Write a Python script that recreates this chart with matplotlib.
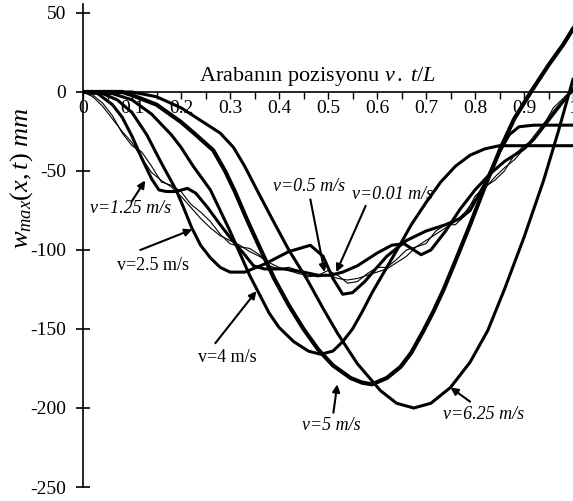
import numpy as np
import matplotlib
matplotlib.use("Agg")
import matplotlib.pyplot as plt
from matplotlib.ticker import MultipleLocator, FixedLocator

plt.rcParams['font.family'] = ['Liberation Serif', 'DejaVu Serif']
plt.rcParams['mathtext.fontset'] = 'custom'
plt.rcParams['mathtext.rm'] = 'Liberation Serif'
plt.rcParams['mathtext.it'] = 'Liberation Serif:italic'
plt.rcParams['axes.unicode_minus'] = False

# ---- data (x = v.t/L, y = w_max in mm) ----
x_slow = [0, 0.02, 0.04, 0.06, 0.08, 0.10, 0.12, 0.14, 0.16, 0.18, 0.20, 0.22, 0.24,
          0.26, 0.28, 0.30, 0.32, 0.34, 0.36, 0.38, 0.40, 0.42, 0.44, 0.46, 0.48, 0.50,
          0.52, 0.54, 0.56, 0.58, 0.60, 0.62, 0.64, 0.66, 0.68, 0.70, 0.72, 0.74, 0.76,
          0.78, 0.80, 0.82, 0.84, 0.86, 0.88, 0.90, 0.92, 0.94, 0.96, 0.98, 1.0]
y_001 = [0, -3, -9, -17, -25, -32, -42, -51, -56, -60, -66, -73, -80,
         -86, -91, -94, -97, -101, -104, -108, -111, -113, -115, -116, -117, -116,
         -118, -119, -118, -116, -114, -112, -108, -104, -98, -94, -90, -86, -82,
         -76, -68, -61, -54, -48, -43, -36, -28, -20, -12, -5, 0]
y_05 = [0, -2, -7, -15, -26, -34, -38, -47, -57, -59, -63, -71, -76,
        -82, -90, -96, -98, -99, -103, -110, -112, -111, -113, -117, -116, -113,
        -116, -121, -120, -115, -111, -111, -106, -100, -98, -96, -88, -84, -84,
        -78, -66, -60, -56, -50, -40, -34, -30, -21, -10, -4, 2]

x_125 = [0, 0.03, 0.06, 0.08, 0.10, 0.12, 0.14, 0.155, 0.17, 0.19, 0.213, 0.23, 0.254,
         0.28, 0.30, 0.33, 0.348, 0.37, 0.41, 0.45, 0.48, 0.505, 0.53, 0.56, 0.60, 0.63,
         0.655, 0.675, 0.69, 0.71, 0.74, 0.77, 0.80, 0.83, 0.86, 0.88, 0.90, 0.92, 0.95,
         0.98, 1.0]
y_125 = [0, -1, -8, -16, -28, -42, -55, -62, -63, -63, -61, -64, -73,
         -84, -92, -103, -110, -112, -112, -114, -116, -116, -114, -110, -102, -97,
         -96, -100, -103, -100, -88, -74, -62, -52, -44, -40, -36, -30, -18,
         -6, 2]

x_25 = [0, 0.04, 0.07, 0.10, 0.13, 0.16, 0.19, 0.205, 0.222, 0.24, 0.26, 0.28, 0.30,
        0.33, 0.37, 0.42, 0.464, 0.49, 0.51, 0.53, 0.55, 0.575, 0.60, 0.62, 0.66, 0.70,
        0.74, 0.77, 0.79, 0.82, 0.85, 0.87, 0.89, 0.92, 1.0]
y_25 = [0, -1, -5, -13, -27, -45, -62, -73, -86, -97, -105, -111, -114,
        -114, -109, -101, -97, -104, -118, -128, -127, -120, -111, -104, -94, -88,
        -84, -80, -75, -58, -38, -27, -22, -21, -21]

x_4 = [0, 0.06, 0.10, 0.14, 0.18, 0.20, 0.225, 0.26, 0.28, 0.30, 0.32, 0.34, 0.36, 0.38,
       0.40, 0.43, 0.46, 0.485, 0.51, 0.53, 0.55, 0.57, 0.59, 0.62, 0.65, 0.67, 0.70, 0.73,
       0.76, 0.79, 0.82, 0.85, 0.90, 1.0]
y_4 = [0, -1, -5, -14, -27, -35, -47, -62, -75, -88, -102, -116, -128, -140,
       -149, -158, -164, -166, -164, -158, -150, -139, -127, -111, -95, -84, -70, -57,
       -47, -40, -36, -34, -34, -34]

x_5 = [0, 0.08, 0.10, 0.15, 0.20, 0.23, 0.266, 0.29, 0.31, 0.335, 0.36, 0.39, 0.42, 0.45,
       0.48, 0.51, 0.546, 0.57, 0.59, 0.62, 0.648, 0.67, 0.695, 0.715, 0.736, 0.76, 0.79, 0.82,
       0.853, 0.88, 0.914, 0.95, 0.98, 1.0]
y_5 = [0, 0, -2, -8, -19, -27, -37, -50, -63, -81, -98, -118, -135, -150,
       -163, -173, -181, -184, -185, -181, -174, -165, -151, -139, -125, -107, -84, -60,
       -35, -17, 0, 17, 30, 40]

x_625 = [0, 0.10, 0.15, 0.20, 0.25, 0.28, 0.307, 0.33, 0.355, 0.382, 0.42, 0.458, 0.49, 0.52,
         0.56, 0.607, 0.64, 0.675, 0.71, 0.75, 0.79, 0.826, 0.86, 0.90, 0.94, 0.97, 1.0]
y_625 = [0, 0, -3, -10, -20, -26, -35, -47, -62, -78, -100, -119, -137, -153,
         -172, -189, -197, -200, -197, -187, -171, -151, -125, -92, -56, -25, 8]

x_ticks = [0, 0.1, 0.2, 0.3, 0.4, 0.5, 0.6, 0.7, 0.8, 0.9, 1.0]
x_tick_labels = ['0', '0.1', '0.2', '0.3', '0.4', '0.5', '0.6', '0.7', '0.8', '0.9', '1']
y_ticks = [-250, -200, -150, -100, -50, 0, 50]

# label text, text position, arrow tail, arrow tip, italic?
labels = [
    ('v=0.5 m/s',  (0.462, -60),  (0.464, -68),  (0.493, -114), True),
    ('v=0.01 m/s', (0.632, -65),  (0.577, -72),  (0.517, -114), True),
    ('v=1.25 m/s', (0.098, -74),  (0.100, -69),  (0.127, -56),  True),
    ('v=2.5 m/s',  (0.143, -109.5), (0.117, -100), (0.223, -87), False),
    ('v=4 m/s',    (0.295, -168), (0.270, -159), (0.354, -126), False),
    ('v=5 m/s',    (0.507, -211), (0.511, -203), (0.519, -185), True),
    ('v=6.25 m/s', (0.818, -204), (0.790, -196), (0.750, -187), True),
]


def main():
    fig = plt.figure(figsize=(5.73, 5.01), dpi=100)
    ax = fig.add_axes([83 / 573, 14 / 501, 490 / 573, 483.5 / 501])

    # thin curves (slow speeds)
    ax.plot(x_slow, y_001, color='k', lw=0.8)
    ax.plot(x_slow, y_05, color='k', lw=0.8)
    # thick curves
    ax.plot(x_125, y_125, color='k', lw=2.2)
    ax.plot(x_25, y_25, color='k', lw=2.2)
    ax.plot(x_4, y_4, color='k', lw=2.2)
    ax.plot(x_5, y_5, color='k', lw=3.0)
    ax.plot(x_625, y_625, color='k', lw=2.2)

    ax.set_xlim(0, 1.0)
    ax.set_ylim(-250, 56)

    ax.spines['top'].set_visible(False)
    ax.spines['right'].set_visible(False)
    ax.spines['bottom'].set_position(('data', 0))
    ax.spines['left'].set_linewidth(1.2)
    ax.spines['bottom'].set_linewidth(1.2)

    ax.xaxis.set_major_locator(FixedLocator(x_ticks))
    ax.set_xticklabels(x_tick_labels)
    ax.xaxis.set_minor_locator(MultipleLocator(0.05))
    ax.tick_params(axis='x', which='both', direction='out', length=5, width=1,
                   pad=0.5, labelsize=14)
    ax.set_yticks(y_ticks)
    ax.tick_params(axis='y', direction='inout', length=10, width=1.2, pad=7, labelsize=14)

    ax.text(0.478, 10, 'Arabanın pozisyonu $v\\,.\\;t/L$', ha='center', va='center',
            fontsize=16)
    fig.text(22 / 573, 1 - 178 / 501, r'$w_{max}(x,t)\ mm$', rotation=90,
             ha='center', va='center', fontsize=19)

    for txt, pos, tail, tip, italic in labels:
        ax.text(pos[0], pos[1], txt, ha='center', va='center', fontsize=13,
                style='italic' if italic else 'normal')
        ax.annotate('', xy=tip, xytext=tail,
                    arrowprops=dict(arrowstyle='-|>', color='k', lw=1.5,
                                    mutation_scale=11, shrinkA=0, shrinkB=0))

    fig.savefig('out.png', dpi=100)


if __name__ == '__main__':
    main()
